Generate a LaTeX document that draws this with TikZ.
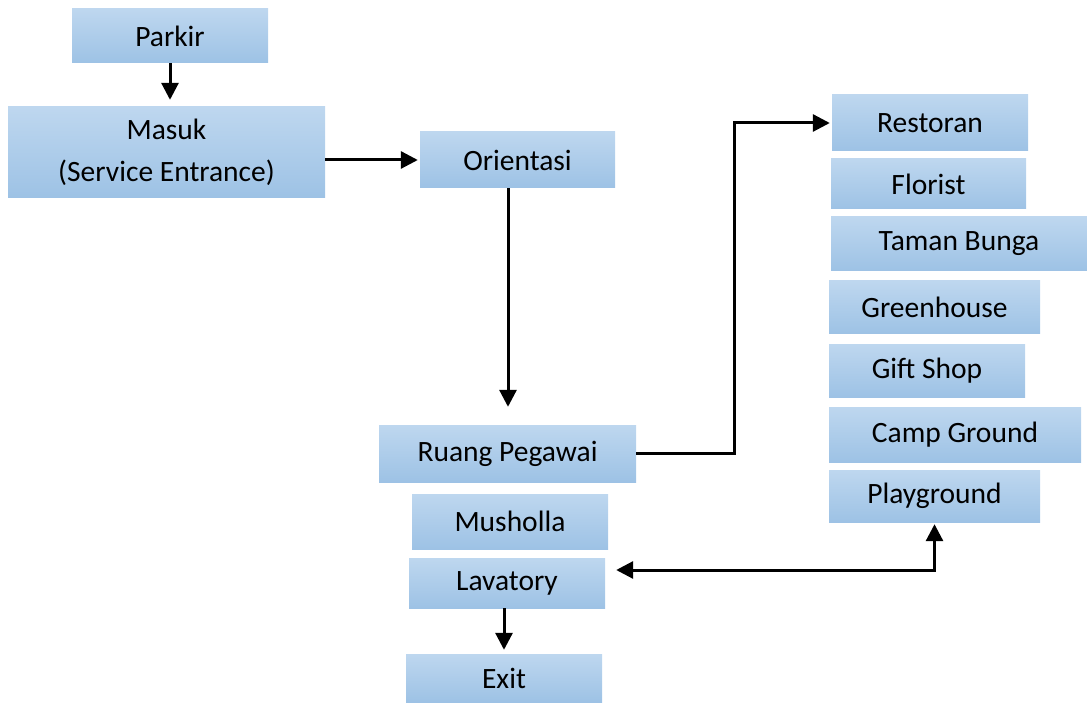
\documentclass[tikz,border=0pt]{standalone}
\usepackage{fontspec}
\setmainfont{Carlito}
\usetikzlibrary{calc}
\usetikzlibrary{positioning}
\usetikzlibrary{arrows.meta}
\definecolor{boxtop}{RGB}{190,215,239}
\definecolor{boxbot}{RGB}{157,194,229}

\begin{document}
\begin{tikzpicture}[
		x=1pt, y=-1pt,
		b/.style = {rectangle, top color=boxtop, bottom color=boxbot, inner sep=0pt,
			font=\fontsize{29.5}{42}\selectfont, align=center},
		r/.style = {-{Triangle[length=17pt, width=17pt]}, line width=3pt},
		rr/.style = {{Triangle[length=17pt, width=17pt]}-{Triangle[length=17pt, width=17pt]}, line width=3pt}
		]
		\useasboundingbox (0, 0) rectangle (1087, 703);
		
		%Nodes
		\node[b, minimum width=196, minimum height=54]	(park)	at	(170, 36)		{Parkir};
		\node[b, minimum width=317, minimum height=91]	(masuk)	at	(166.5, 152.5)	{Masuk\\(Service Entrance)};
		\node[b, minimum width=195, minimum height=56]	(ori)	at	(517.5, 160)	{Orientasi};
		\node[b, minimum width=257, minimum height=57]	(peg)	at	(507.5, 453.5)	{Ruang Pegawai};
		\node[b, minimum width=196, minimum height=55]	(mus)	at	(510, 521.5)	{Musholla};
		\node[b, minimum width=196, minimum height=50]	(lav)	at	(507, 583)		{Lavatory};
		\node[b, minimum width=196, minimum height=48]	(exit)	at	(504, 678)		{Exit};
		\node[b, minimum width=196, minimum height=56]	(resto)	at	(930, 123)		{Restoran};
		\node[b, minimum width=195, minimum height=50]	(flor)	at	(928.5, 184)	{Florist};
		\node[b, minimum width=256, minimum height=54]	(taman)	at	(959, 244)		{Taman Bunga};
		\node[b, minimum width=211, minimum height=53]	(green)	at	(934.5, 307.5)	{Greenhouse};
		\node[b, minimum width=196, minimum height=53]	(gift)	at	(927, 370.5)	{Gift Shop};
		\node[b, minimum width=252, minimum height=55]	(camp)	at	(955, 434.5)	{Camp Ground};
		\node[b, minimum width=211, minimum height=52]	(play)	at	(934.5, 496)	{Playground};
		
		%Lines
		\coordinate (orid) at ($(ori.south) + (-9.5, 0)$);
		\coordinate (lavr) at ($(lav.east) + (11, -13)$);
		\draw[r, shorten >=7pt]	(park.south)	to	(park.south |- masuk.north);
		\draw[r, shorten >=2pt]	(masuk.east |- ori.west)	to	(ori.west);
		\draw[r, shorten >=18pt]	(orid)	to	(orid |- peg.north);
		\draw[r, shorten >=2pt]	(peg.east)	-- ++(98, 0)	|-	(resto.west);
		\draw[r, shorten >=4pt]	(lav.south -| exit.north)	to	(exit.north);
		\draw[rr, shorten >=2pt]	(lavr)	-|	(play.south);
	\end{tikzpicture}
\end{document}
